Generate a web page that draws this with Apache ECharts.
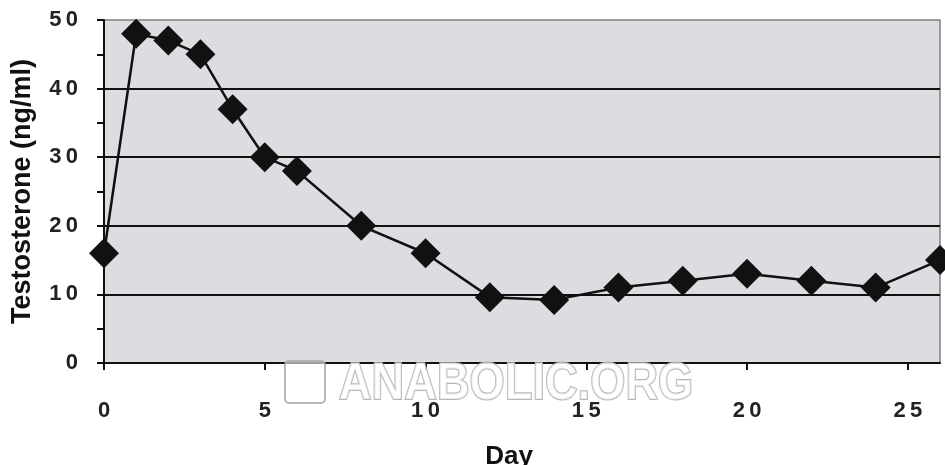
<!DOCTYPE html>
<html>
<head>
<meta charset="utf-8">
<script src="https://cdn.jsdelivr.net/npm/echarts@6/dist/echarts.min.js"></script>
<style>
html,body{margin:0;padding:0;background:#fff;}
#chart{width:945px;height:465px;}
</style>
</head>
<body>
<div id="chart"></div>
<script>
const days = [0, 1, 2, 3, 4, 5, 6, 8, 10, 12, 14, 16, 18, 20, 22, 24, 26];
const testosterone = [16, 48, 47, 45, 37, 30, 28, 20, 16, 9.6, 9.2, 11, 12, 13, 12, 11, 15];
const xTicks = [0, 5, 10, 15, 20, 25];
const yTicks = [0, 10, 20, 30, 40, 50];
const xTitle = 'Day';
const yTitle = 'Testosterone (ng/ml)';
const watermark = 'ANABOLIC.ORG';

const spaced = v => String(v).split('').join('\u2009');
const chart = echarts.init(document.getElementById('chart'));
chart.setOption({
  animation: false,
  backgroundColor: '#ffffff',
  grid: {
    left: 104, right: 5, top: 20, bottom: 102,
    outerBoundsMode: 'none', containLabel: false,
    show: true, backgroundColor: '#dddde1', borderColor: '#808080', borderWidth: 1.5
  },
  xAxis: {
    type: 'value', min: 0, max: 26, interval: 5,
    name: xTitle, nameLocation: 'middle', nameGap: 81,
    nameTextStyle: { fontFamily: 'Liberation Sans', fontWeight: 'bold', fontSize: 26, color: '#111', padding: [0, 26, 0, 0] },
    axisLine: { show: true, onZero: false, lineStyle: { color: '#111', width: 2 } },
    axisTick: { show: true, length: 7, customValues: xTicks, lineStyle: { color: '#111', width: 2 } },
    axisLabel: { customValues: xTicks, margin: 37, fontFamily: 'Liberation Sans', fontWeight: 'bold', fontSize: 22, color: '#222', formatter: spaced },
    splitLine: { show: false }
  },
  yAxis: {
    type: 'value', min: 0, max: 50, interval: 10,
    name: yTitle, nameLocation: 'middle', nameGap: 68,
    nameTextStyle: { fontFamily: 'Liberation Sans', fontWeight: 'bold', fontSize: 27, color: '#111' },
    axisLine: { show: true, lineStyle: { color: '#111', width: 2 } },
    axisTick: { show: true, length: 7, lineStyle: { color: '#111', width: 2 } },
    minorTick: { show: true, splitNumber: 2, length: 7, lineStyle: { color: '#111', width: 2 } },
    axisLabel: { margin: 26, fontFamily: 'Liberation Sans', fontWeight: 'bold', fontSize: 22, color: '#222', formatter: spaced },
    splitLine: { show: true, showMinLine: false, showMaxLine: false, lineStyle: { color: '#111', width: 2 } }
  },
  graphic: [{
    type: 'text', left: 338, top: 358, z: 100, scaleX: 0.87,
    style: {
      text: watermark, fontFamily: 'Liberation Sans', fontWeight: 'bold', fontSize: 52,
      fill: 'rgba(255,255,255,0.7)', stroke: 'rgba(170,170,170,0.85)', lineWidth: 2
    }
  }, {
    type: 'rect', left: 284, top: 360, z: 100,
    shape: { width: 40, height: 42, r: 4 },
    style: { fill: 'rgba(255,255,255,0.6)', stroke: 'rgba(170,170,170,0.85)', lineWidth: 2 }
  }],
  series: [{
    type: 'line',
    data: days.map((d, i) => [d, testosterone[i]]),
    symbol: 'diamond', symbolSize: [30, 30],
    lineStyle: { color: '#111', width: 2.5 },
    itemStyle: { color: '#111' },
    clip: false
  }]
});
</script>
</body>
</html>
